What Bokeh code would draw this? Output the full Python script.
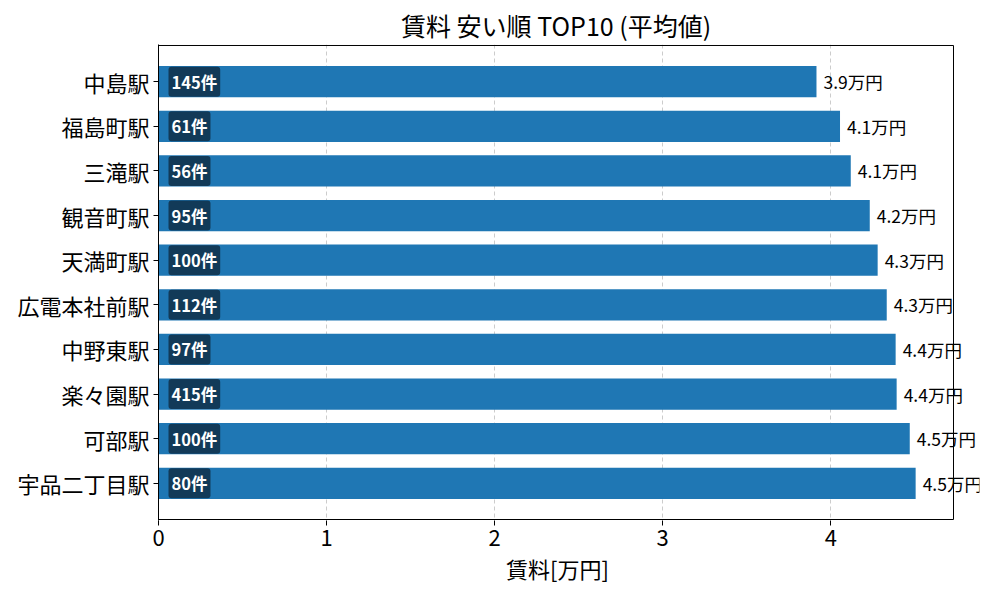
from bokeh.plotting import figure
from bokeh.models import Range1d, FixedTicker, ColumnDataSource, LabelSet, BoxAnnotation, Title
from bokeh.core.properties import value
from bokeh.embed import file_html
from bokeh.resources import INLINE

stations = ["中島駅", "福島町駅", "三滝駅", "観音町駅", "天満町駅",
            "広電本社前駅", "中野東駅", "楽々園駅", "可部駅", "宇品二丁目駅"]
rents = [3.915, 4.055, 4.119, 4.232, 4.279, 4.333, 4.386, 4.392, 4.470, 4.505]
counts = [145, 61, 56, 95, 100, 112, 97, 415, 100, 80]
x_ticks = [0, 1, 2, 3, 4]

FONT = "Noto Sans CJK JP"
idx = list(range(len(stations)))
src = ColumnDataSource(dict(
    y=idx, rent=rents,
    rent_label=[f"{r:.1f}万円" for r in rents],
    count_label=[f"{c}件" for c in counts],
    zero=[0] * len(idx),
))

# axes box (matplotlib-like) sizes, in pixels
LEFT, TOP, BOX_W, BOX_H = 158, 44, 795, 477
W, H = 984, 584
RIGHT_BORDER = 5
frame_w = W - LEFT - RIGHT_BORDER
xmax = max(rents) * 1.05
x_end = xmax * frame_w / BOX_W
y_lo, y_hi = -0.81, 9.81
upx = (y_hi - y_lo) / BOX_H
frame_h = BOX_H + 2
p = figure(width=W, height=H, output_backend="svg", toolbar_location=None,
           x_range=Range1d(0, x_end),
           y_range=Range1d(y_hi + upx, y_lo - upx),
           title="賃料 安い順 TOP10 (平均値)")
p.min_border_left = LEFT
p.min_border_right = RIGHT_BORDER
p.min_border_top = TOP
p.min_border_bottom = H - TOP - frame_h

p.title.text_font = FONT
p.title.text_font_size = "25px"
p.title.text_font_style = "normal"
p.title.text_color = "black"
p.title.align = "left"
p.title.offset = BOX_W / 2 - 155
p.title.standoff = 4

p.outline_line_color = None
p.background_fill_color = "white"

# grid
p.ygrid.grid_line_color = None
p.xgrid.grid_line_color = "#cccccc"
p.xgrid.grid_line_dash = "4 3"
p.xgrid.grid_line_width = 1
p.xgrid.ticker = FixedTicker(ticks=x_ticks)

p.hbar(y="y", left=0, right="rent", height=0.7, source=src,
       fill_color="#1f77b4", line_color=None)

p.add_layout(BoxAnnotation(left=0, right=xmax, top=y_lo, bottom=y_hi,
                           fill_color=None, fill_alpha=0,
                           line_color="black", line_alpha=1.0, line_width=1))

p.add_layout(LabelSet(x="rent", y="y", text="rent_label", source=src, x_offset=7,
                      text_font=value(FONT), text_font_size="17.5px",
                      text_baseline="middle", text_align="left",
                      text_color="black"))

p.text(x="zero", y="y", text="count_label", source=src, x_offset=10,
       text_font=value(FONT), text_font_size="16.5px", text_font_style="bold",
       text_baseline="middle", text_align="left", text_color="white",
       background_fill_color="#123a58", background_fill_alpha=1.0,
       border_radius=3, padding=3)

# x axis
p.xaxis.ticker = FixedTicker(ticks=x_ticks)
p.xaxis.major_label_text_font = FONT
p.xaxis.major_label_text_font_size = "22px"
p.xaxis.major_label_standoff = 4
p.xaxis.major_tick_out = 5
p.xaxis.major_tick_in = 0
p.xaxis.minor_tick_line_color = None
p.xaxis.axis_line_color = None
p.xaxis.major_tick_line_color = "black"
p.xaxis.major_label_text_color = "black"

# x axis label, centred under the axes box
p.add_layout(Title(text="賃料[万円]", text_font=FONT, text_font_size="22px",
                   text_font_style="normal", text_color="black",
                   align="left", offset=BOX_W / 2 - 50, standoff=2), "below")

# y axis
p.yaxis.ticker = FixedTicker(ticks=idx)
p.yaxis.major_label_overrides = {i: s for i, s in zip(idx, stations)}
p.yaxis.major_label_text_font = FONT
p.yaxis.major_label_text_font_size = "22px"
p.yaxis.major_label_standoff = 4
p.yaxis.major_tick_out = 5
p.yaxis.major_tick_in = 0
p.yaxis.minor_tick_line_color = None
p.yaxis.axis_line_color = "black"
p.yaxis.major_label_text_color = "black"

open("out.html", "w").write(file_html(p, INLINE))
